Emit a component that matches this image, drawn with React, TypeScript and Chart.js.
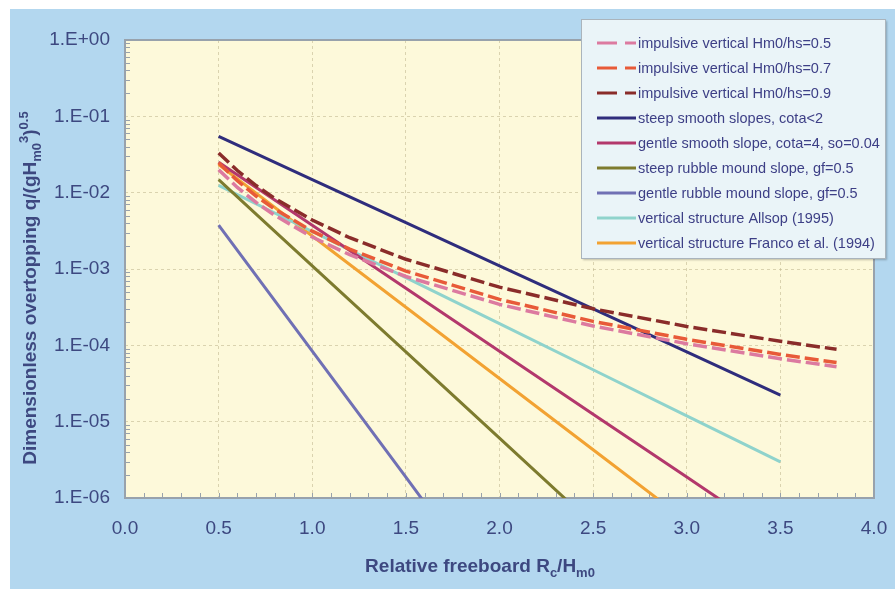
import React, { useEffect, useRef } from "react";
import { Chart, registerables } from "chart.js";

Chart.register(...registerables);

const seriesLabels = [
  "impulsive vertical Hm0/hs=0.5",
  "impulsive vertical Hm0/hs=0.7",
  "impulsive vertical Hm0/hs=0.9",
  "steep smooth slopes, cota<2",
  "gentle smooth slope, cota=4, so=0.04",
  "steep rubble mound slope, gf=0.5",
  "gentle rubble mound slope, gf=0.5",
  "vertical structure Allsop (1995)",
  "vertical structure Franco et al. (1994)",
];

const xImpulsive = [0.5, 0.6, 0.7, 0.8, 1.0, 1.2, 1.5, 2.0, 2.5, 3.0, 3.5, 3.8];
const impulsive05 = [0.02, 0.0117, 0.00745, 0.00504, 0.00262, 0.00154, 0.000798, 0.000344, 0.000179, 0.000105, 0.0000667, 0.0000524];
const impulsive07 = [0.0246, 0.0143, 0.00904, 0.00608, 0.00313, 0.00182, 0.00094, 0.0004, 0.000206, 0.00012, 0.0000759, 0.0000594];
const impulsive09 = [0.0331, 0.0195, 0.0124, 0.00839, 0.00438, 0.00257, 0.00134, 0.000578, 0.000301, 0.000177, 0.000113, 0.0000887];

const xSteepSmooth = [0.5, 1.0, 1.5, 2.0, 2.5, 3.0, 3.5];
const steepSmooth = [0.0545, 0.01485, 0.00405, 0.0011, 0.000301, 0.0000819, 0.0000223];
const xGentleSmooth = [0.5, 1.0, 1.5, 2.0, 2.5, 3.0, 3.5];
const gentleSmooth = [0.0251, 0.00375, 0.00056, 0.0000838, 0.0000125, 0.00000188, 0.00000028];
const xSteepRubble = [0.5, 1.0, 1.5, 2.0, 2.5];
const steepRubble = [0.01485, 0.0011, 0.0000819, 0.00000608, 0.00000045];
const xGentleRubble = [0.5, 1.0, 1.5, 2.0];
const gentleRubble = [0.00375, 0.0000838, 0.00000188, 0.00000004];
const xAllsop = [0.5, 1.0, 1.5, 2.0, 2.5, 3.0, 3.5];
const allsop = [0.01245, 0.0031, 0.000773, 0.000192, 0.0000479, 0.0000119, 0.00000297];
const xFranco = [0.5, 1.0, 1.5, 2.0, 2.5, 3.0];
const franco = [0.0233, 0.00271, 0.000316, 0.0000368, 0.00000429, 0.0000005];

const xTickValues = [0, 0.5, 1.0, 1.5, 2.0, 2.5, 3.0, 3.5, 4.0];
const xTickLabels = ["0.0", "0.5", "1.0", "1.5", "2.0", "2.5", "3.0", "3.5", "4.0"];
const yTickValues = [1e-6, 1e-5, 1e-4, 1e-3, 1e-2, 1e-1, 1];
const yTickLabels = ["1.E-06", "1.E-05", "1.E-04", "1.E-03", "1.E-02", "1.E-01", "1.E+00"];

const FONT = '"Liberation Sans", Arial, Helvetica, sans-serif';
const TEXT = "#3d4880";
const BLUE = "#b3d7ef";
const YELLOW = "#fdf9da";
const AXIS = "#98a2ac";

const colors = ["#dc7aa0", "#e85a38", "#8a2c2a", "#2f2d7c", "#b3386c", "#7d7b2e", "#7070b4", "#8fd3cc", "#f2a232"];
const dashes = [[14, 5], [14, 5], [14, 5], [], [], [], [], [], []];

function pts(xs: number[], ys: number[]) {
  return xs.map((x, i) => ({ x, y: ys[i] }));
}

type Part = [string, "n" | "sub" | "sup"];

function drawRich(ctx: CanvasRenderingContext2D, parts: Part[], cx: number, baseY: number, base: number, small: number) {
  const fm = `bold ${base}px ${FONT}`;
  const fs = `bold ${small}px ${FONT}`;
  let total = 0;
  const widths = parts.map(([t, k]) => {
    ctx.font = k === "n" ? fm : fs;
    const w = ctx.measureText(t).width;
    total += w;
    return w;
  });
  let x = cx - total / 2;
  ctx.textAlign = "left";
  ctx.textBaseline = "alphabetic";
  ctx.fillStyle = TEXT;
  parts.forEach(([t, k], i) => {
    ctx.font = k === "n" ? fm : fs;
    const dy = k === "sub" ? base * 0.28 : k === "sup" ? -base * 0.42 : 0;
    ctx.fillText(t, x, baseY + dy);
    x += widths[i];
  });
}

const framePlugin = {
  id: "frame",
  beforeDraw(chart: any) {
    const { ctx, chartArea: a } = chart;
    ctx.save();
    ctx.fillStyle = "#ffffff";
    ctx.fillRect(0, 0, chart.width, chart.height);
    ctx.fillStyle = BLUE;
    ctx.fillRect(10, 9, chart.width - 10, 580);
    ctx.fillStyle = YELLOW;
    ctx.fillRect(a.left, a.top, a.right - a.left, a.bottom - a.top);
    ctx.restore();
  },
  beforeDatasetsDraw(chart: any) {
    const { ctx, chartArea: a, scales } = chart;
    ctx.save();
    ctx.strokeStyle = AXIS;
    ctx.lineWidth = 1;
    ctx.beginPath();
    for (let k = -6; k < 0; k++) {
      for (let m = 2; m <= 9; m++) {
        const y = Math.round(scales.y.getPixelForValue(m * Math.pow(10, k))) + 0.5;
        ctx.moveTo(a.left, y);
        ctx.lineTo(a.left + 5, y);
      }
    }
    for (let i = 1; i < 40; i++) {
      const x = Math.round(scales.x.getPixelForValue(i / 10)) + 0.5;
      ctx.moveTo(x, a.bottom);
      ctx.lineTo(x, a.bottom - 5);
    }
    ctx.stroke();
    ctx.lineWidth = 2;
    ctx.strokeRect(a.left, a.top, a.right - a.left, a.bottom - a.top);
    ctx.restore();
  },
  afterDraw(chart: any) {
    const { ctx } = chart;
    ctx.save();
    ctx.shadowColor = "rgba(0,0,0,0.25)";
    ctx.shadowOffsetX = 2;
    ctx.shadowOffsetY = 2;
    ctx.shadowBlur = 2;
    ctx.fillStyle = "#eaf4f8";
    ctx.fillRect(581, 19, 304, 239);
    ctx.shadowColor = "transparent";
    ctx.strokeStyle = "#aab4bc";
    ctx.lineWidth = 1;
    ctx.strokeRect(581.5, 19.5, 304, 239);
    chart.data.datasets.forEach((ds: any, i: number) => {
      const y = 43 + i * 25;
      ctx.beginPath();
      ctx.strokeStyle = ds.borderColor;
      ctx.lineWidth = 3;
      ctx.setLineDash(ds.borderDash && ds.borderDash.length ? [20, 8] : []);
      ctx.moveTo(597, y);
      ctx.lineTo(636, y);
      ctx.stroke();
      ctx.setLineDash([]);
      ctx.font = `14.5px ${FONT}`;
      ctx.fillStyle = "#3d3f86";
      ctx.textAlign = "left";
      ctx.textBaseline = "middle";
      ctx.fillText(ds.label, 638, y + 1);
    });
    drawRich(ctx, [["Relative freeboard R", "n"], ["c", "sub"], ["/H", "n"], ["m0", "sub"]], 480, 572, 19, 13);
    ctx.translate(36, 288);
    ctx.rotate(-Math.PI / 2);
    drawRich(ctx, [["Dimensionless overtopping q/(gH", "n"], ["m0", "sub"], ["3", "sup"], [")", "n"], ["0.5", "sup"]], 0, 0, 19, 13);
    ctx.restore();
  },
};

export default function App() {
  const ref = useRef<HTMLCanvasElement | null>(null);
  useEffect(() => {
    if (!ref.current) return;
    const xsList = [xImpulsive, xImpulsive, xImpulsive, xSteepSmooth, xGentleSmooth, xSteepRubble, xGentleRubble, xAllsop, xFranco];
    const ysList = [impulsive05, impulsive07, impulsive09, steepSmooth, gentleSmooth, steepRubble, gentleRubble, allsop, franco];
    const datasets = seriesLabels.map((label, i) => ({
      label,
      data: pts(xsList[i], ysList[i]),
      borderColor: colors[i],
      backgroundColor: colors[i],
      borderWidth: i < 3 ? 3.5 : 3,
      borderDash: dashes[i],
      pointRadius: 0,
      fill: false,
      tension: 0,
    }));
    const tickFont = { family: FONT, size: 19 };
    const gridColor = "rgba(190,180,140,0.55)";
    const chart = new Chart(ref.current, {
      type: "line",
      data: { datasets },
      plugins: [framePlugin],
      options: {
        responsive: false,
        animation: false,
        devicePixelRatio: 1,
        layout: { padding: { left: 10, top: 40, right: 21, bottom: 0 } },
        plugins: { legend: { display: false }, tooltip: { enabled: false } },
        scales: {
          x: {
            type: "linear",
            min: 0,
            max: 4,
            afterBuildTicks: (s: any) => {
              s.ticks = xTickValues.map((v) => ({ value: v }));
            },
            afterFit: (s: any) => {
              s.height = 94;
              s.paddingLeft = 0;
              s.paddingRight = 0;
            },
            ticks: {
              callback: (_v: any, i: number) => xTickLabels[i],
              color: TEXT,
              font: tickFont,
              padding: 19,
              autoSkip: false,
              maxRotation: 0,
            },
            grid: { color: gridColor, lineWidth: 1, drawTicks: false },
            border: { display: false, dash: [3, 3] },
          },
          y: {
            type: "logarithmic",
            min: 1e-6,
            max: 1,
            afterBuildTicks: (s: any) => {
              s.ticks = yTickValues.map((v) => ({ value: v }));
            },
            afterFit: (s: any) => {
              s.width = 115;
              s.paddingTop = 0;
              s.paddingBottom = 0;
            },
            ticks: {
              callback: (_v: any, i: number) => yTickLabels[i],
              color: TEXT,
              font: tickFont,
              padding: 15,
              autoSkip: false,
            },
            grid: { color: gridColor, lineWidth: 1, drawTicks: false },
            border: { display: false, dash: [3, 3] },
          },
        },
      } as any,
    });
    return () => chart.destroy();
  }, []);
  return (
    <div style={{ position: "fixed", left: 0, top: 0, width: 895, height: 592, background: "#fff" }}>
      <canvas ref={ref} width={895} height={592} style={{ display: "block", width: 895, height: 592 }} />
    </div>
  );
}
